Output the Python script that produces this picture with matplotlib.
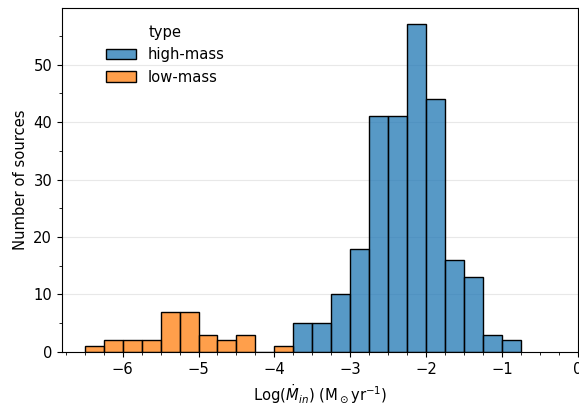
import numpy as np
import matplotlib
matplotlib.use("Agg")
import matplotlib.pyplot as plt
from matplotlib.ticker import AutoMinorLocator, MultipleLocator
from matplotlib.colors import to_rgba

# bin edges (log Mdot_in) and counts per bin, width 0.25
bin_width = 0.25
low_left = [-6.5, -6.25, -6.0, -5.75, -5.5, -5.25, -5.0, -4.75, -4.5, -4.25, -4.0]
low_counts = [1, 2, 2, 2, 7, 7, 3, 2, 3, 0, 1]
high_left = [-3.75, -3.5, -3.25, -3.0, -2.75, -2.5, -2.25, -2.0, -1.75, -1.5, -1.25, -1.0]
high_counts = [5, 5, 10, 18, 41, 41, 57, 44, 16, 13, 3, 2]

plt.rcParams['font.size'] = 10.6

fig = plt.figure(figsize=(5.79, 4.05), dpi=100)
ax = fig.add_axes([0.107, 0.131, 0.891, 0.849])

ax.bar(high_left, high_counts, width=bin_width, align='edge',
       facecolor=to_rgba('#1f77b4', 0.75), edgecolor='black', linewidth=1,
       label='high-mass', zorder=2)
ax.bar(low_left, low_counts, width=bin_width, align='edge',
       facecolor=to_rgba('#ff7f0e', 0.75), edgecolor='black', linewidth=1,
       label='low-mass', zorder=2)

ax.set_xlim(-6.8, 0)
ax.set_ylim(0, 59.85)
ax.xaxis.set_major_locator(MultipleLocator(1))
ax.xaxis.set_minor_locator(AutoMinorLocator(4))
ax.yaxis.set_major_locator(MultipleLocator(10))
ax.yaxis.set_minor_locator(AutoMinorLocator(2))
ax.grid(axis='y', color='#e8e8e8', linewidth=0.8, zorder=0)
ax.set_axisbelow(True)

ax.set_xlabel(r'Log($\dot{M}_{in}$) (M$_\odot$yr$^{-1}$)')
ax.set_ylabel('Number of sources')
ax.legend(title='type', frameon=False, loc='upper left', bbox_to_anchor=(0.06, 0.99))

plt.savefig('out.png', dpi=100)
